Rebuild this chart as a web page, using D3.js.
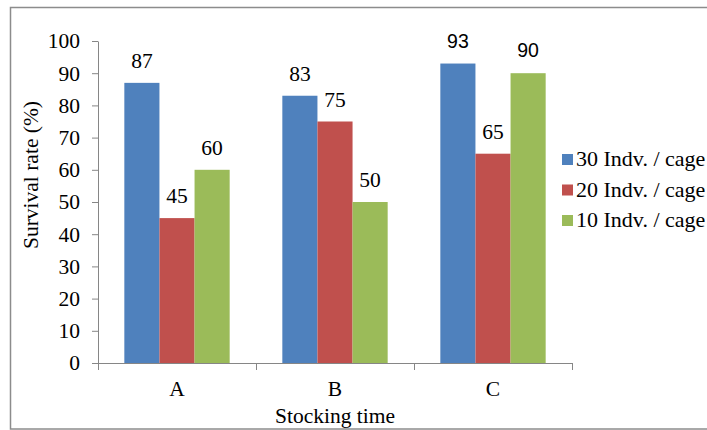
<!DOCTYPE html>
<html>
<head>
<meta charset="utf-8">
<script src="https://cdn.jsdelivr.net/npm/d3@7"></script>
<style>
  html, body { margin: 0; padding: 0; background: #fff; }
  svg { display: block; }
</style>
</head>
<body>
<svg id="chart" width="707" height="430"></svg>
<script>
// ---- data ----
const categories = ["A", "B", "C"];
const seriesNames = ["30 Indv. / cage", "20 Indv. / cage", "10 Indv. / cage"];
const values30 = [87, 83, 93];
const values20 = [45, 75, 65];
const values10 = [60, 50, 90];
const yTicks = [0, 10, 20, 30, 40, 50, 60, 70, 80, 90, 100];
const xTitle = "Stocking time";
const yTitle = "Survival rate (%)";

// ---- style ----
const colors = ["#4F81BD", "#C0504D", "#9BBB59"];
const serif = "Liberation Serif, Times New Roman, serif";
const sans = "Liberation Sans, Arial, sans-serif";
const axisColor = "#868686";
const fontSize = 21.5;

const seriesValues = [values30, values20, values10];
const data = categories.map((c, i) => ({
  cat: c,
  vals: seriesNames.map((s, j) => ({ series: s, idx: j, value: seriesValues[j][i], cat: c }))
}));

const svg = d3.select("#chart");

// outer frame
svg.append("rect")
  .attr("x", 10.5).attr("y", 7.5)
  .attr("width", 700).attr("height", 421.5)
  .attr("fill", "none").attr("stroke", "#8c8c8c").attr("stroke-width", 1.5);

const plotLeft = 98, plotRight = 572, plotTop = 41, plotBottom = 363;

const x = d3.scaleBand().domain(categories).range([plotLeft, plotRight]).paddingInner(0).paddingOuter(0);
const groupW = x.bandwidth() * 3 / 4.5;
const x1 = d3.scaleBand().domain(d3.range(seriesNames.length)).range([0, groupW]);
const y = d3.scaleLinear().domain([0, 100]).range([plotBottom, plotTop]);

// y axis
const yAxis = svg.append("g")
  .attr("transform", `translate(${plotLeft},0)`)
  .call(d3.axisLeft(y).tickValues(yTicks).tickSize(6).tickSizeOuter(0).tickPadding(12));
yAxis.select(".domain").attr("stroke", axisColor);
yAxis.selectAll(".tick line").attr("stroke", axisColor);
yAxis.selectAll(".tick text")
  .style("font-family", serif).style("font-size", fontSize + "px").attr("fill", "#000");

// bars
const groups = svg.append("g").selectAll("g")
  .data(data).join("g")
  .attr("transform", d => `translate(${x(d.cat) + (x.bandwidth() - groupW) / 2},0)`);

groups.selectAll("rect")
  .data(d => d.vals).join("rect")
  .attr("x", d => x1(d.idx))
  .attr("y", d => y(d.value))
  .attr("width", x1.bandwidth())
  .attr("height", d => y(0) - y(d.value))
  .attr("fill", d => colors[d.idx]);

// value labels
const isSans = d => d.cat === "C" && d.idx !== 1;
groups.selectAll("text")
  .data(d => d.vals).join("text")
  .attr("x", d => x1(d.idx) + x1.bandwidth() / 2)
  .attr("y", d => y(d.value) - (isSans(d) ? 16 : 15))
  .attr("text-anchor", "middle")
  .style("font-family", d => isSans(d) ? sans : serif)
  .style("font-size", d => (isSans(d) ? 19.5 : fontSize) + "px")
  .attr("fill", "#000")
  .text(d => d.value);

// x axis
const xAxis = svg.append("g");
xAxis.append("line")
  .attr("x1", plotLeft).attr("x2", plotRight)
  .attr("y1", y(0) + 0.5).attr("y2", y(0) + 0.5)
  .attr("stroke", axisColor);
const bounds = categories.map(c => x(c)).concat([x(categories[categories.length - 1]) + x.bandwidth()]);
xAxis.selectAll("line.tick")
  .data(bounds).join("line")
  .attr("class", "tick")
  .attr("x1", d => Math.round(d) + 0.5).attr("x2", d => Math.round(d) + 0.5)
  .attr("y1", y(0)).attr("y2", y(0) + 7)
  .attr("stroke", axisColor);
xAxis.selectAll("text")
  .data(categories).join("text")
  .attr("x", d => x(d) + x.bandwidth() / 2)
  .attr("y", 396)
  .attr("text-anchor", "middle")
  .style("font-family", serif).style("font-size", fontSize + "px")
  .attr("fill", "#000")
  .text(d => d);

// axis titles
svg.append("text")
  .attr("x", (plotLeft + plotRight) / 2).attr("y", 423)
  .attr("text-anchor", "middle")
  .style("font-family", serif).style("font-size", fontSize + "px")
  .text(xTitle);

svg.append("text")
  .attr("transform", `translate(38,175) rotate(-90)`)
  .attr("text-anchor", "middle")
  .style("font-family", serif).style("font-size", fontSize + "px")
  .text(yTitle);

// legend
const legend = svg.append("g").selectAll("g")
  .data(seriesNames).join("g")
  .attr("transform", (d, i) => `translate(0,${166 + i * 30.5})`);
legend.append("rect")
  .attr("x", 562).attr("y", -12)
  .attr("width", 11).attr("height", 11)
  .attr("fill", (d, i) => colors[i]);
legend.append("text")
  .attr("x", 576).attr("y", 0)
  .style("font-family", serif).style("font-size", "22px")
  .attr("fill", "#000")
  .text(d => d);
</script>
</body>
</html>
